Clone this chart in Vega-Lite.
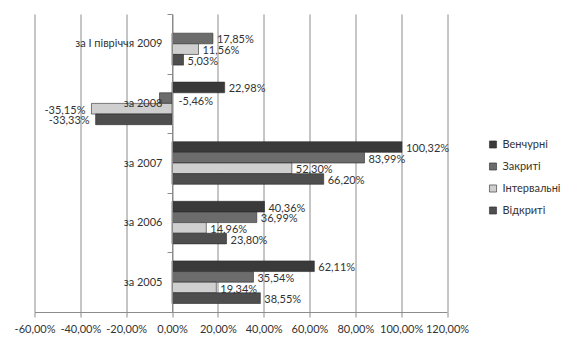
{
  "$schema": "https://vega.github.io/schema/vega-lite/v6.json",
  "autosize": {"type": "none"},
  "padding": {"left": 34.5, "top": 14, "right": 123, "bottom": 44},
  "width": 412.5,
  "height": 298,
  "background": "white",
  "config": {
    "locale": {"number": {"decimal": ",", "thousands": " ", "grouping": [3], "currency": ["", ""], "minus": "-"}},
    "view": {"stroke": null},
    "axis": {"labelFont": "Lato", "labelFontSize": 11, "labelColor": "#333333", "gridColor": "#8c8c8c", "domainColor": "#8c8c8c", "tickColor": "#8c8c8c", "titleFont": "Lato"},
    "legend": {"labelFont": "Lato", "labelFontSize": 11, "labelColor": "#333333"},
    "text": {"font": "Lato", "fontSize": 11, "fill": "#333333"}
  },
  "data": {"values": [
    {"period": "за І півріччя 2009", "type": "Закриті", "value": 0.1785},
    {"period": "за І півріччя 2009", "type": "Інтервальні", "value": 0.1156},
    {"period": "за І півріччя 2009", "type": "Відкриті", "value": 0.0503},
    {"period": "за 2008", "type": "Венчурні", "value": 0.2298},
    {"period": "за 2008", "type": "Закриті", "value": -0.0546},
    {"period": "за 2008", "type": "Інтервальні", "value": -0.3515},
    {"period": "за 2008", "type": "Відкриті", "value": -0.3333},
    {"period": "за 2007", "type": "Венчурні", "value": 1.0032},
    {"period": "за 2007", "type": "Закриті", "value": 0.8399},
    {"period": "за 2007", "type": "Інтервальні", "value": 0.523},
    {"period": "за 2007", "type": "Відкриті", "value": 0.662},
    {"period": "за 2006", "type": "Венчурні", "value": 0.4036},
    {"period": "за 2006", "type": "Закриті", "value": 0.3699},
    {"period": "за 2006", "type": "Інтервальні", "value": 0.1496},
    {"period": "за 2006", "type": "Відкриті", "value": 0.238},
    {"period": "за 2005", "type": "Венчурні", "value": 0.6211},
    {"period": "за 2005", "type": "Закриті", "value": 0.3554},
    {"period": "за 2005", "type": "Інтервальні", "value": 0.1934},
    {"period": "за 2005", "type": "Відкриті", "value": 0.3855}
  ]},
  "encoding": {
    "y": {"field": "period", "type": "nominal", "sort": ["за І півріччя 2009", "за 2008", "за 2007", "за 2006", "за 2005"],
      "scale": {"paddingInner": 0, "paddingOuter": 0},
      "axis": {"title": null, "offset": -137.5, "tickBand": "extent", "tickSize": 5, "labelPadding": 5, "grid": false, "domain": true, "zindex": 1}},
    "yOffset": {"field": "type", "type": "nominal", "sort": ["Венчурні", "Закриті", "Інтервальні", "Відкриті"],
      "scale": {"domain": ["Венчурні", "Закриті", "Інтервальні", "Відкриті"], "paddingInner": 0, "paddingOuter": 0.8}},
    "x": {"field": "value", "type": "quantitative",
      "scale": {"domain": [-0.6, 1.2], "nice": false, "zero": false},
      "axis": {"title": null, "format": ".2%", "values": [-0.6, -0.4, -0.2, 0, 0.2, 0.4, 0.6, 0.8, 1.0, 1.2], "tickSize": 5, "labelPadding": 6, "grid": true, "gridColor": "#8c8c8c", "labelFlush": false, "labelOverlap": false}}
  },
  "layer": [
    {
      "mark": {"type": "bar", "stroke": "#2a2a2a", "strokeWidth": 0.6},
      "encoding": {
        "color": {"field": "type", "type": "nominal",
          "scale": {"domain": ["Венчурні", "Закриті", "Інтервальні", "Відкриті"], "range": ["#3a3a3a", "#6c6c6c", "#cfcfcf", "#4e4e4e"]},
          "legend": {"title": null, "orient": "none", "legendX": 453, "legendY": 125, "symbolType": "square", "symbolSize": 50, "rowPadding": 10, "labelOffset": 4, "symbolStrokeColor": "#2a2a2a", "symbolStrokeWidth": 0.6}}
      }
    },
    {
      "transform": [{"filter": "datum.value >= 0"}],
      "mark": {"type": "text", "align": "left", "baseline": "middle", "dx": 4, "dy": 2},
      "encoding": {"text": {"field": "value", "type": "quantitative", "format": ".2%"}}
    },
    {
      "transform": [{"filter": "datum.value < -0.1"}],
      "mark": {"type": "text", "align": "right", "baseline": "middle", "dx": -6, "dy": 2},
      "encoding": {"text": {"field": "value", "type": "quantitative", "format": ".2%"}}
    },
    {
      "transform": [{"filter": "datum.value < 0 && datum.value >= -0.1"}],
      "mark": {"type": "text", "align": "left", "baseline": "middle", "dx": 19, "dy": 4},
      "encoding": {"text": {"field": "value", "type": "quantitative", "format": ".2%"}}
    }
  ]
}
